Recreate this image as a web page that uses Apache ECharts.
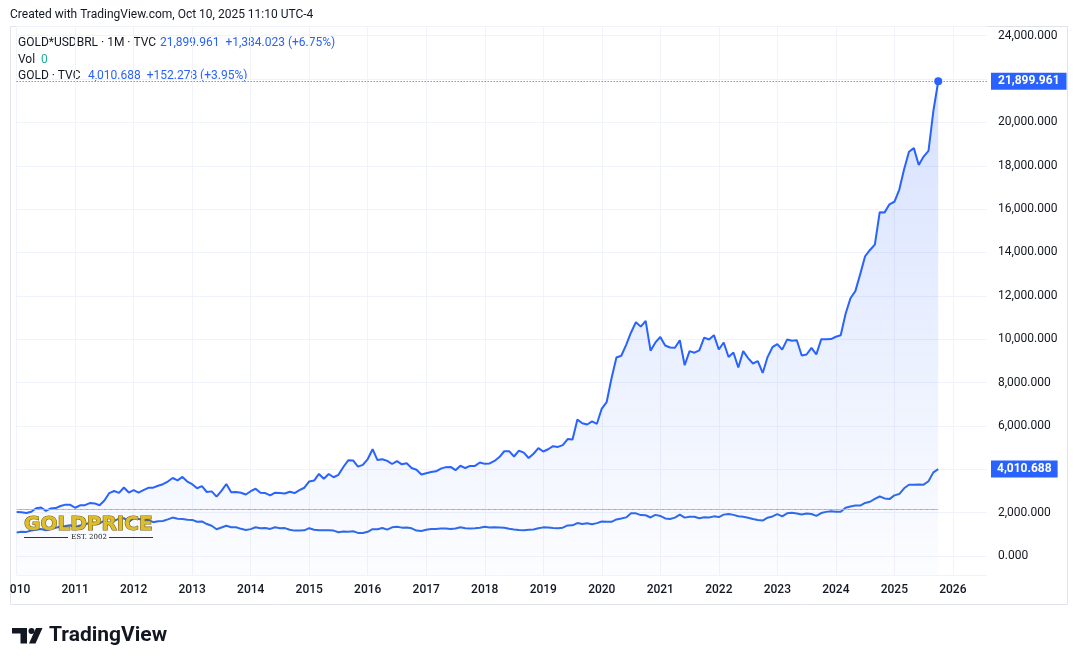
<!DOCTYPE html>
<html>
<head>
<meta charset="utf-8">
<script src="https://cdn.jsdelivr.net/npm/echarts@6.0.0/dist/echarts.min.js"></script>
<style>
  html, body { margin: 0; padding: 0; background: #fff; }
  #chart { width: 1078px; height: 666px; }
</style>
</head>
<body>
<div id="chart"></div>
<script>
// monthly closes, Jan 2010 .. Oct 2025
var goldBrl = [
  2032, 2020, 1981, 2040, 2206, 2239, 2079, 2196, 2209, 2307, 2370, 2359,
  2226, 2339, 2346, 2443, 2427, 2340, 2560, 2903, 2997, 2912, 3160, 2928,
  3042, 2924, 3038, 3145, 3151, 3240, 3311, 3435, 3597, 3490, 3647, 3434,
  3311, 3124, 3224, 2952, 2981, 2739, 3007, 3322, 2946, 2950, 2919, 2837,
  2988, 3103, 2915, 2903, 2800, 2919, 2910, 2883, 2965, 2904, 3038, 3149,
  3438, 3481, 3786, 3561, 3784, 3633, 3745, 4105, 4415, 4408, 4122, 4202,
  4472, 4927, 4426, 4461, 4386, 4244, 4377, 4228, 4277, 4061, 3976, 3756,
  3815, 3872, 3909, 4032, 4099, 4111, 3959, 4164, 4058, 4156, 4157, 4313,
  4250, 4270, 4386, 4563, 4832, 4837, 4590, 4864, 4768, 4520, 4717, 4974,
  4822, 4924, 5065, 5033, 5116, 5396, 5373, 6293, 6124, 6067, 6207, 6098,
  6801, 7101, 8200, 9155, 9238, 9742, 10310, 10785, 10580, 10842, 9471, 9851,
  10103, 9710, 9616, 9606, 9955, 8797, 9451, 9378, 9482, 10074, 9988, 10188,
  9524, 9850, 9181, 9390, 8694, 9451, 9130, 8880, 8986, 8443, 9176, 9631,
  9775, 9519, 9983, 9930, 9952, 9250, 9294, 9603, 9300, 9994, 9997, 10006,
  10113, 10179, 11172, 11887, 12217, 13002, 13826, 14117, 14361, 15860, 15850, 16223,
  16340, 16891, 17838, 18649, 18813, 18034, 18424, 18688, 20525, 21899.961
];
var goldUsd = [
  1081, 1116, 1113, 1179, 1212, 1244, 1181, 1248, 1307, 1357, 1386, 1421,
  1333, 1409, 1439, 1556, 1536, 1500, 1628, 1826, 1620, 1723, 1746, 1566,
  1738, 1710, 1669, 1664, 1560, 1604, 1615, 1692, 1772, 1719, 1712, 1675,
  1664, 1578, 1596, 1476, 1393, 1234, 1313, 1396, 1327, 1323, 1253, 1202,
  1240, 1326, 1284, 1296, 1250, 1327, 1282, 1287, 1210, 1171, 1182, 1184,
  1283, 1213, 1183, 1183, 1190, 1172, 1095, 1134, 1115, 1142, 1065, 1061,
  1118, 1238, 1233, 1293, 1215, 1322, 1351, 1309, 1316, 1277, 1173, 1152,
  1211, 1249, 1249, 1268, 1269, 1242, 1269, 1322, 1280, 1271, 1275, 1303,
  1345, 1318, 1325, 1315, 1299, 1253, 1224, 1201, 1192, 1215, 1222, 1282,
  1321, 1313, 1292, 1284, 1305, 1409, 1414, 1520, 1472, 1513, 1464, 1517,
  1589, 1585, 1577, 1686, 1730, 1781, 1975, 1968, 1886, 1879, 1777, 1898,
  1847, 1734, 1708, 1769, 1907, 1770, 1814, 1814, 1743, 1783, 1774, 1829,
  1797, 1909, 1937, 1897, 1838, 1807, 1766, 1711, 1661, 1633, 1768, 1824,
  1928, 1827, 1969, 1990, 1963, 1919, 1965, 1940, 1849, 1983, 2036, 2063,
  2039, 2044, 2230, 2286, 2327, 2326, 2447, 2503, 2635, 2744, 2657, 2625,
  2798, 2858, 3124, 3289, 3289, 3303, 3290, 3448, 3858, 4010.688
];
var brlChange = '+1,384.023 (+6.75%)';
var usdChange = '+152.278 (+3.95%)';
var refLine = 2140; // dashed line across the pane

// month categories, the axis runs a little past the last bar
var months = [];
for (var y = 2010; y <= 2026; y++) {
  for (var m = 1; m <= 12; m++) {
    if (y === 2026 && m > 8) break;
    months.push(y + '-' + (m < 10 ? '0' + m : m));
  }
}

var FONT = 'Roboto, "Noto Sans", sans-serif';
var BLUE = '#2962ff';
var lastIdx = goldBrl.length - 1;
var lastBrl = goldBrl[lastIdx];
var lastUsd = goldUsd[goldUsd.length - 1];

function fmt(v) {
  return v.toLocaleString('en-US', { minimumFractionDigits: 3, maximumFractionDigits: 3 });
}
function isJan(i, v) { return v.slice(5) === '01'; }

var tagLabel = {
  show: true, position: 'end', distance: 4,
  backgroundColor: BLUE, color: '#fff',
  padding: [3, 7, 2, 7], fontSize: 12, fontWeight: 'bold', fontFamily: FONT
};

var chart = echarts.init(document.getElementById('chart'));

var option = {
  animation: false,
  grid: { left: 12, right: 91, top: 26, bottom: 91 },
  xAxis: {
    type: 'category',
    data: months,
    boundaryGap: false,
    axisLine: { show: false },
    axisTick: { show: false },
    axisLabel: {
      interval: isJan,
      margin: 9,
      color: '#131722',
      fontSize: 12,
      fontWeight: 500,
      fontFamily: FONT,
      formatter: function (v) { return v.slice(0, 4); }
    },
    splitLine: { show: true, interval: isJan, lineStyle: { color: '#f0f3fa', width: 1 } }
  },
  yAxis: {
    type: 'value',
    position: 'right',
    min: -876,
    max: 24447,
    splitNumber: 12,
    axisLine: { show: false },
    axisTick: { show: false },
    splitLine: { lineStyle: { color: '#f0f3fa', width: 1 } },
    axisLabel: {
      margin: 11,
      color: '#131722',
      fontSize: 12,
      fontFamily: FONT,
      formatter: function (v) {
        if (v % 2000 !== 0) return '';
        // hidden under the last value tags
        if (Math.abs(v - lastBrl) < 900 || Math.abs(v - lastUsd) < 900) return '';
        return fmt(v);
      }
    }
  },
  series: [
    {
      name: 'GOLD*USDBRL',
      type: 'line',
      data: goldBrl,
      z: 2,
      silent: true,
      showSymbol: false,
      lineStyle: { color: BLUE, width: 2 },
      itemStyle: { color: BLUE },
      areaStyle: {
        origin: 'start',
        color: new echarts.graphic.LinearGradient(0, 0, 0, 1, [
          { offset: 0, color: 'rgba(41,98,255,0.27)' },
          { offset: 1, color: 'rgba(41,98,255,0.02)' }
        ])
      },
      markLine: {
        silent: true,
        symbol: ['none', 'none'],
        data: [{
          yAxis: lastBrl,
          lineStyle: { type: [1, 2], color: BLUE, width: 1 },
          label: Object.assign({ formatter: fmt(lastBrl) }, tagLabel)
        }]
      },
      markPoint: {
        silent: true,
        data: [{
          coord: [months[lastIdx], lastBrl],
          symbol: 'circle', symbolSize: 8,
          itemStyle: { color: BLUE },
          label: { show: false }
        }]
      }
    },
    {
      name: 'GOLD',
      type: 'line',
      data: goldUsd,
      z: 3,
      silent: true,
      showSymbol: false,
      lineStyle: { color: '#2f6ae8', width: 2 },
      markLine: {
        silent: true,
        symbol: ['none', 'none'],
        data: [
          {
            yAxis: lastUsd,
            lineStyle: { color: 'rgba(0,0,0,0)', width: 0 },
            label: Object.assign({ formatter: fmt(lastUsd) }, tagLabel, { padding: [3, 6, 2, 6] })
          },
          [
            { coord: [months[0], refLine], lineStyle: { type: [3, 3], dashOffset: 0, color: '#f2a7ad', width: 1 }, label: { show: false } },
            { coord: [months[lastIdx], refLine] }
          ],
          [
            { coord: [months[0], refLine], lineStyle: { type: [3, 3], dashOffset: 3, color: '#8fb3bf', width: 1 }, label: { show: false } },
            { coord: [months[lastIdx], refLine] }
          ]
        ]
      }
    }
  ],
  graphic: [
    // pane frame
    { type: 'rect', silent: true, z: 0, shape: { x: 10.5, y: 26.5, width: 1057, height: 578 },
      style: { fill: 'none', stroke: '#e0e3eb', lineWidth: 1 } },
    // clip the half-visible 2010 label
    { type: 'rect', silent: true, z: 10, shape: { x: 0, y: 578, width: 10, height: 26 }, style: { fill: '#fff' } },
    { type: 'text', silent: true, x: 10, y: 15,
      style: { text: 'Created with TradingView.com, Oct 10, 2025 11:10 UTC-4', font: '12px ' + FONT, fill: '#131722', verticalAlign: 'middle' } },
    // legend rows
    { type: 'text', silent: true, x: 18, y: 42.5,
      style: { text: 'GOLD*USDBRL · 1M · TVC', font: '12px ' + FONT, fill: '#131722', verticalAlign: 'middle' } },
    { type: 'text', silent: true, x: 160, y: 42.5,
      style: { text: fmt(lastBrl) + '  ' + brlChange, font: '12px ' + FONT, fill: BLUE, verticalAlign: 'middle' } },
    { type: 'text', silent: true, x: 18, y: 59.5,
      style: { text: 'Vol', font: '12px ' + FONT, fill: '#131722', verticalAlign: 'middle' } },
    { type: 'text', silent: true, x: 41, y: 59.5,
      style: { text: '0', font: '12px ' + FONT, fill: '#22ab94', verticalAlign: 'middle' } },
    { type: 'text', silent: true, x: 18, y: 75.5,
      style: { text: 'GOLD · TVC', font: '12px ' + FONT, fill: '#131722', verticalAlign: 'middle' } },
    { type: 'text', silent: true, x: 88, y: 75.5,
      style: { text: fmt(lastUsd) + '  ' + usdChange, font: '12px ' + FONT, fill: BLUE, verticalAlign: 'middle' } },
    // GOLDPRICE watermark
    { type: 'text', silent: true, z: 20, x: 24, y: 525,
      style: {
        text: 'GOLDPRICE', font: 'bold 20px "DejaVu Sans", sans-serif', verticalAlign: 'middle',
        fill: '#dcbd2e', stroke: '#7a6212', lineWidth: 1.2
      } },
    { type: 'line', silent: true, z: 20, shape: { x1: 24, y1: 537.5, x2: 68, y2: 537.5 }, style: { stroke: '#333', lineWidth: 1 } },
    { type: 'line', silent: true, z: 20, shape: { x1: 109, y1: 537.5, x2: 153, y2: 537.5 }, style: { stroke: '#333', lineWidth: 1 } },
    { type: 'text', silent: true, z: 20, x: 89, y: 537.5,
      style: { text: 'EST. 2002', font: '7px "DejaVu Serif", serif', fill: '#222', align: 'center', verticalAlign: 'middle' } },
    // TradingView logo
    { type: 'rect', silent: true, shape: { x: 12, y: 628, width: 15, height: 5.5 }, style: { fill: '#131722' } },
    { type: 'rect', silent: true, shape: { x: 20.5, y: 628, width: 6.5, height: 15.5 }, style: { fill: '#131722' } },
    { type: 'circle', silent: true, shape: { cx: 31.5, cy: 631, r: 3 }, style: { fill: '#131722' } },
    { type: 'polygon', silent: true, shape: { points: [[36, 628], [42.5, 628], [35.5, 643.5], [29, 643.5]] }, style: { fill: '#131722' } },
    { type: 'text', silent: true, x: 49, y: 636,
      style: { text: 'TradingView', font: 'bold 21px ' + FONT, fill: '#131722', verticalAlign: 'middle' } }
  ]
};

chart.setOption(option);
</script>
</body>
</html>
